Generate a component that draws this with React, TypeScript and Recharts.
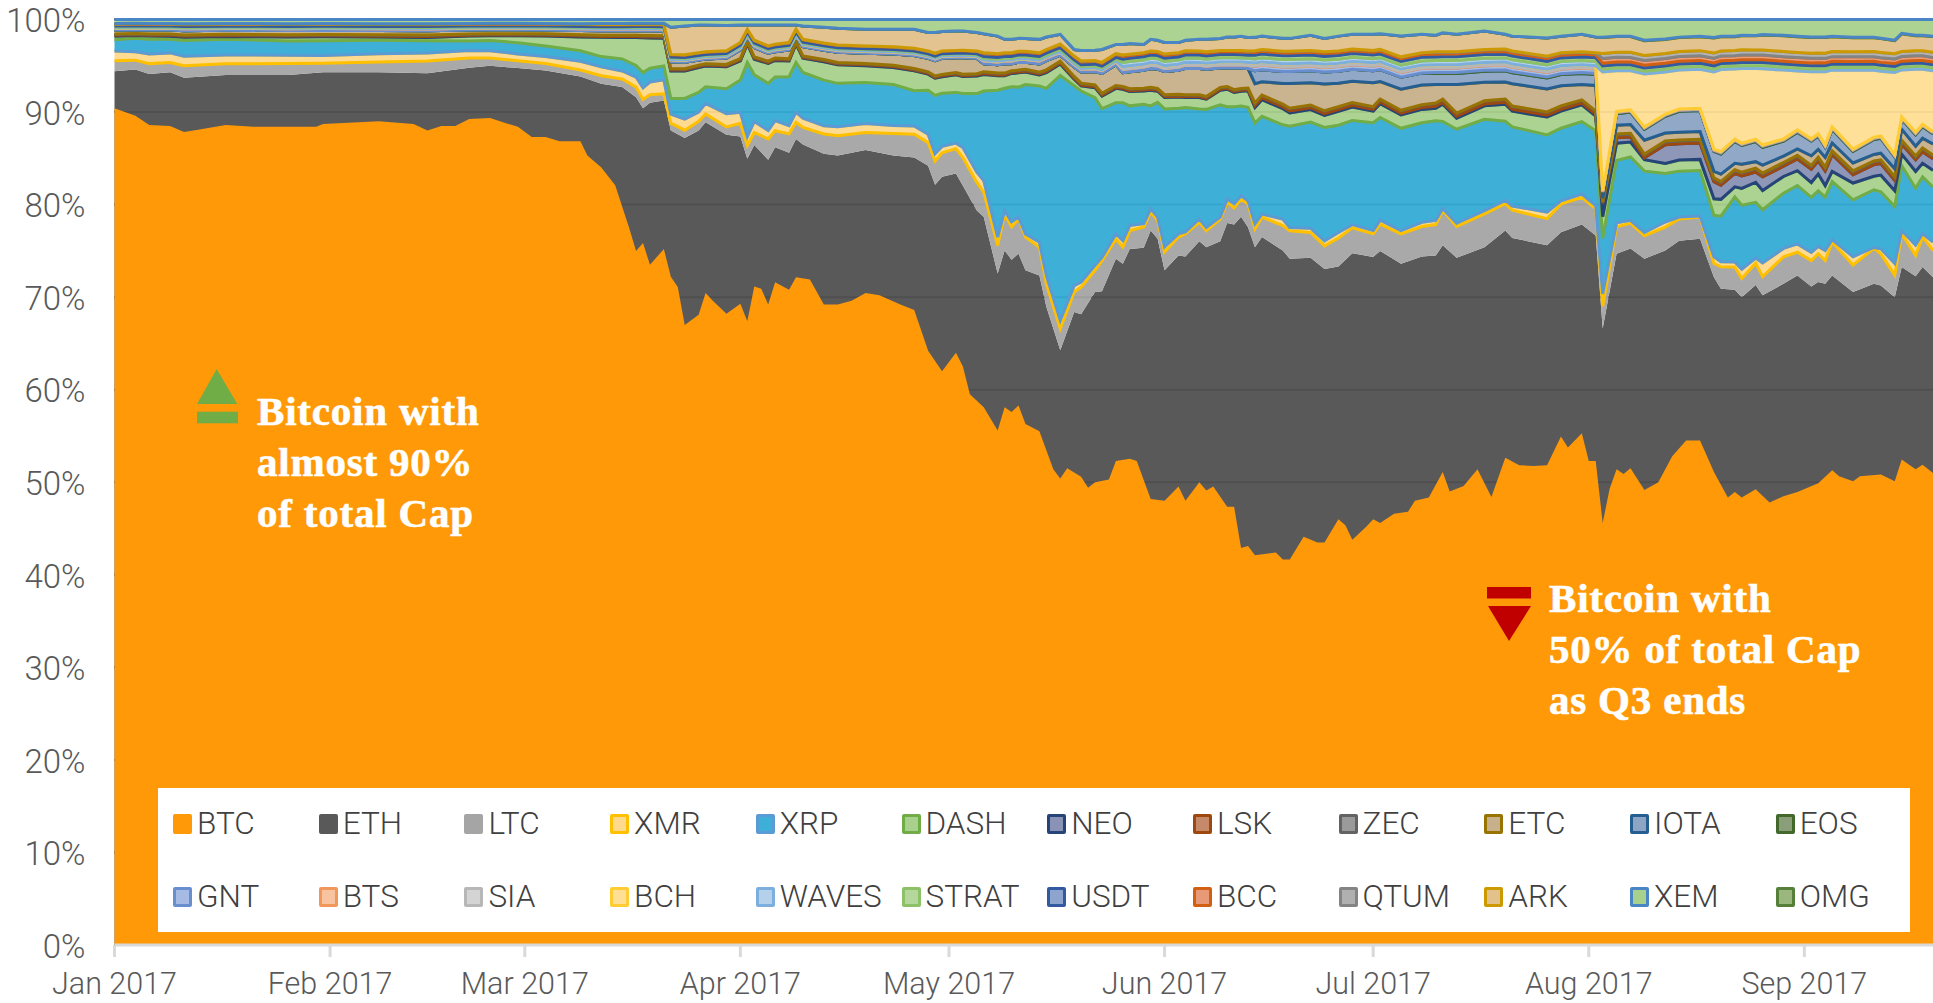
import React from 'react';
import { AreaChart, Area, XAxis, YAxis, CartesianGrid, Legend } from 'recharts';

// BTC share, read at its own finer set of days (days since 1 Jan 2017)
const btcDays = [
  0, 3, 5, 8, 10, 12, 16, 20, 29, 30, 38, 43, 45, 47, 49, 51, 54, 58, 60, 62, 64, 67, 68, 70, 72, 74, 75, 76, 77, 79,
  80, 81, 82, 84, 85, 86, 88, 90, 91, 92, 93, 94, 95, 97, 98, 100, 102, 104, 106, 108, 110, 113, 115, 117, 119, 121, 122, 123, 125, 127,
  128, 129, 130, 131, 133, 135, 136, 137, 139, 140, 141, 143, 144, 146, 147, 149, 151, 153, 154, 156, 157, 158, 160, 161, 162, 163, 164, 167, 168, 169,
  171, 173, 174, 176, 177, 178, 180, 181, 182, 184, 186, 187, 189, 191, 192, 194, 196, 198, 200, 202, 204, 206, 208, 209, 211, 212, 213, 214, 215, 216,
  217, 218, 220, 222, 224, 226, 228, 230, 232, 233, 234, 236, 238, 240, 242, 245, 247, 248, 250, 251, 254, 256, 257, 259, 260, 261.5,
];
const btc = [
  90.4, 89.6, 88.6, 88.5, 87.85, 88.1, 88.6, 88.4, 88.4, 88.7, 89, 88.7, 88, 88.5, 88.5, 89.25, 89.35, 88.4, 87.3, 87.3, 86.85, 86.85, 85.3, 84, 82.1, 77.5, 75, 75.85, 73.5, 75.2,
  72.2, 71.1, 67, 68.1, 70.45, 69.65, 68.2, 69.3, 67.4, 71.15, 70.9, 69.2, 71.6, 70.8, 72.15, 71.9, 69.2, 69.2, 69.6, 70.45, 70.2, 69.2, 68.6, 64.2, 62, 64, 62.5, 59.5, 58.1, 55.6,
  58.1, 57.6, 58.3, 56.3, 55.5, 51.4, 50.4, 51.5, 50.6, 49.4, 50, 50.3, 52.3, 52.55, 52.3, 48.2, 48, 49.55, 48, 50, 49.1, 49.55, 47.35, 47.35, 42.9, 43.1, 42.1, 42.4, 41.65, 41.65,
  44.1, 43.5, 43.5, 46, 45.35, 43.8, 45.2, 46, 45.6, 46.6, 46.8, 48, 48.35, 51.1, 49, 49.6, 51.4, 48.4, 52.65, 51.85, 51.75, 51.85, 54.95, 53.75, 55.3, 52.3, 52.3, 45.6, 49.3, 51.4,
  50.9, 51.5, 49.15, 50, 52.8, 54.5, 54.5, 51.1, 48.35, 48.95, 48.35, 49.25, 47.8, 48.5, 48.95, 49.9, 51.3, 50.65, 50.1, 50.65, 50.85, 50.1, 52.45, 51.4, 51.9, 51,
];

// everything else shares these days
const days = [
  0, 3, 5, 8, 10, 16, 25, 30, 38, 45, 51, 54, 58, 62, 67, 70, 73, 75, 76, 77, 79,
  80, 82, 84, 85, 88, 90, 91, 92, 94, 95, 97, 98, 99, 102, 104, 108, 112, 115, 117, 118, 119, 121, 122, 124,
  125, 127, 128, 129, 130, 131, 133, 134, 136, 138, 139, 141, 142, 144,
  145, 146, 148, 149, 150, 151, 153, 154, 156, 157, 159, 160, 161, 162, 163,
  164, 165, 168, 169, 172, 174, 176, 178, 181, 182, 185, 188,
  190, 191, 193, 197, 200, 201, 206, 208, 211, 213,
  214, 216, 218, 220, 223, 225, 228, 230, 231, 233, 234, 236, 237, 240, 242, 244, 245, 246, 247, 250, 253, 254, 256, 257, 259, 260, 261.5,
];
// upper edge of ETH (BTC + ETH together)
const ethTop = [
  94.4, 94.6, 94.1, 94.3, 93.7, 94, 94, 94.3, 94.3, 94.2, 94.8, 95, 94.75, 94.5, 93.85, 93.05, 92.7, 91.6, 90.4, 91, 91.25,
  88, 87.2, 88, 88.9, 87.55, 87.35, 84.95, 86.45, 84.85, 86.2, 85.6, 87.1, 86.5, 85.5, 85.3, 85.9, 85.3, 85.1, 84.2, 82.15, 83, 83.35, 82.05, 79.35,
  78.65, 72.55, 75.05, 74.05, 74.7, 72.9, 72.35, 68.95, 64.25, 68.4, 68.15, 70.55, 70.65, 74.15,
  73.6, 75.2, 75.35, 77.2, 76.3, 72.9, 74.5, 74.4, 76.05, 75.4, 76.05, 78, 77.85, 78.7, 77.55,
  75.4, 76.5, 75.05, 74.15, 74.25, 73.05, 73.3, 74.75, 74.35, 75, 73.6, 74.4,
  74.5, 75.6, 74.25, 75.4, 77.2, 76.4, 75.6, 77, 77.85, 76.65,
  66.6, 74.7, 75.25, 74.15, 75.05, 76.1, 76.3, 72.15, 70.9, 70.8, 70, 71.3, 70.2, 71.45, 72.35, 71.15, 71.65, 71.45, 72.35, 70.55, 71.45, 71.25, 70, 73.25, 72.25, 73.25, 72.15,
];
const ltc = [
  1.2, 1.1, 1.2, 1.1, 1.3, 1.25, 1.25, 1, 1.1, 1.3, 1.1, 0.9, 0.85, 0.8, 0.7, 0.9, 0.9, 1.1, 0.95, 0.85, 0.7,
  0.8, 0.85, 1, 0.9, 0.85, 1.45, 1.45, 1.35, 2.25, 1.8, 2.05, 1.8, 1.85, 2.15, 2.15, 1.9, 2.4, 2.5, 2.5, 2.55, 2.6, 2.7, 3.05, 3.05,
  2.7, 3.05, 3.95, 3.55, 3.8, 3.6, 3.05, 2.5, 2.35, 2.15, 2.95, 2.35, 3.3, 2.15,
  1.8, 2, 2.25, 2, 2, 2, 2, 2.45, 2.05, 1.8, 2.4, 2.25, 1.8, 1.9, 2.5,
  2, 2.15, 2.7, 3.05, 2.75, 2.5, 3.1, 2.75, 2.5, 2.9, 3.25, 3.25,
  3.35, 3.8, 3.4, 3.6, 2.9, 3, 2.9, 3.05, 2.95, 2.9,
  2.4, 2.9, 2.75, 2.5, 2.5, 2.35, 2.35, 1.45, 2.35, 2.45, 2, 2.35, 2, 2.9, 2.5, 2.8, 3.05, 2.5, 3.6, 2.9, 3.8, 3.4, 2.35, 3.6, 2.25, 3.25, 2.9,
];
const xmr = [
  1.1, 1, 1.1, 1.1, 1, 1, 0.9, 0.85, 0.9, 0.85, 0.85, 0.85, 0.8, 0.8, 0.95, 1, 0.9, 1.1, 1.25, 1.35, 1.45,
  1, 1.2, 1, 1.15, 1.45, 1.2, 0.95, 1.2, 0.9, 1.1, 0.9, 1.1, 1, 0.9, 0.95, 0.95, 0.85, 0.9, 0.9, 0.8, 0.7, 0.6, 1.1, 1.1,
  1.25, 0.9, 0.35, 0.55, 0.2, 0.35, 0.55, 0.9, 0.9, 0.7, 0.55, 0.55, 0.35, 0.55,
  0.7, 0.55, 0.35, 0.35, 0.35, 0.55, 0.35, 0.2, 0.35, 0.35, 0.2, 0.35, 0.45, 0.35, 0.35,
  0.55, 0.35, 0.7, 0.35, 0.45, 0.55, 0.6, 0.35, 0.35, 0.45, 0.35, 0.45,
  0.45, 0.2, 0.35, 0.35, 0.35, 0.45, 0.7, 0.35, 0.35, 0.35,
  1.35, 0.45, 0.3, 0.35, 0.55, 0.2, 0.1, 0.7, 0.55, 0.55, 1, 0.55, 1.45, 0.9, 0.9, 0.9, 0.8, 1.1, 0.25, 0.9, 0.1, 0.55, 1.25, 0.35, 1.1, 0.35, 0.9,
];
const xrp = [
  1.3, 1.6, 1.7, 1.55, 1.7, 1.75, 1.55, 1.6, 1.45, 1.3, 1.1, 1.2, 1.3, 1.2, 1.15, 1.15, 1.35, 1.25, 1.6, 1.45, 1.45,
  1.7, 2.25, 2.15, 1.8, 2.7, 3.5, 8.05, 5.05, 5.1, 4.75, 5.3, 5.4, 4.95, 4.95, 4.7, 4.45, 4.45, 3.8, 4.75, 6.3, 5.75, 5.5, 5.85, 8.5,
  9.7, 15.9, 13.25, 14.65, 14.1, 16.2, 16.9, 20.25, 26.45, 21.6, 20.7, 18.2, 16.15, 14.2,
  14.95, 12.95, 12.95, 11.15, 12.4, 14.95, 13.6, 13.5, 11.9, 12.8, 12.15, 10, 10.5, 9.7, 10.1,
  11, 10.6, 10.25, 11, 11.5, 12.3, 11.6, 11.3, 11.7, 11.15, 11.1, 10.8,
  10.8, 9.45, 10.2, 9.9, 8.55, 8.55, 8.4, 7.85, 7.85, 8.1,
  5.95, 6.75, 6.85, 6.65, 5.2, 4.95, 4.9, 4.4, 4.85, 7, 6.85, 5.95, 5.7, 5.95, 6.3, 5.95, 6.05, 5.75, 6.25, 6.1, 6.2, 6.1, 6.05, 7, 6.1, 6.1, 5.95,
];
const dash = [
  0.4, 0.3, 0.35, 0.35, 0.35, 0.3, 0.45, 0.45, 0.35, 0.35, 0.55, 0.55, 0.8, 1.15, 1.5, 2.15, 2.4, 3.05, 3.7, 3.2, 2.9,
  3, 3, 2.7, 2.25, 2.4, 2.1, 2, 1.7, 2.15, 1.8, 1.7, 2, 1.55, 2, 2, 1.8, 1.85, 2.15, 1.75, 1.85, 1.8, 1.9, 1.85, 1.9,
  1.8, 1.55, 1.35, 1.45, 1.55, 1.35, 1.2, 1.7, 1.25, 0.7, 0.55, 1.1, 1.35, 1.55,
  1.45, 1.55, 1.45, 1.7, 1.2, 1.25, 1.2, 1.1, 1.25, 1.1, 1.6, 1.9, 1.55, 1.6, 1.8,
  1.7, 1.8, 1.75, 1.45, 1.35, 1.3, 1.5, 1.45, 1.25, 1.5, 1.45, 1.45,
  1.35, 1.85, 1.2, 1.45, 1.85, 1.7, 1.95, 1.85, 1.8, 1.6,
  2.35, 1.85, 1.6, 1.25, 1.1, 1.2, 1.2, 1.75, 1.8, 1.1, 1.8, 2.15, 2.05, 1.8, 1.6, 1.6, 1.8, 1.25, 1.1, 1.8, 1.45, 1.8, 1.7, 1.25, 1.8, 1.45, 1.8,
];
const neo = [
  0.1, 0.1, 0.1, 0.1, 0.1, 0.1, 0.1, 0.1, 0.1, 0.1, 0.1, 0.1, 0.1, 0.1, 0.1, 0.1, 0.1, 0.1, 0.1, 0.1, 0.1,
  0.1, 0.1, 0.1, 0.1, 0.1, 0.1, 0.1, 0.1, 0.1, 0.1, 0.1, 0.1, 0.1, 0.1, 0.1, 0.1, 0.1, 0.1, 0.1, 0.1, 0.1, 0.1, 0.1, 0.1,
  0.1, 0.1, 0.1, 0.1, 0.1, 0.1, 0.1, 0.1, 0.1, 0.1, 0.1, 0.1, 0.1, 0.1,
  0.1, 0.1, 0.1, 0.1, 0.1, 0.1, 0.1, 0.1, 0.1, 0.1, 0.1, 0.1, 0.1, 0.1, 0.1,
  0.2, 0.2, 0.2, 0.2, 0.2, 0.2, 0.2, 0.2, 0.2, 0.2, 0.2, 0.2,
  0.2, 0.2, 0.2, 0.2, 0.2, 0.2, 0.2, 0.2, 0.2, 0.2,
  1.45, 0.6, 0.55, 0.2, 2, 1.75, 1.75, 1.8, 1.5, 1.45, 1.35, 1.1, 1.45, 1.1, 1.25, 1.45, 1.45, 1.6, 1.8, 0.9, 1.25, 1.25, 1.1, 1.1, 1.25, 1.25, 1.25,
];
const lsk = [
  0.1, 0.1, 0.1, 0.1, 0.1, 0.1, 0.1, 0.1, 0.1, 0.1, 0.1, 0.1, 0.1, 0.1, 0.1, 0.1, 0.1, 0.1, 0.1, 0.1, 0.1,
  0.1, 0.1, 0.1, 0.1, 0.1, 0.1, 0.1, 0.1, 0.1, 0.1, 0.1, 0.1, 0.1, 0.1, 0.1, 0.1, 0.1, 0.1, 0.1, 0.1, 0.1, 0.1, 0.1, 0.1,
  0.15, 0.15, 0.15, 0.15, 0.15, 0.15, 0.15, 0.15, 0.15, 0.15, 0.15, 0.15, 0.15, 0.15,
  0.15, 0.15, 0.15, 0.15, 0.15, 0.15, 0.15, 0.15, 0.15, 0.15, 0.15, 0.15, 0.15, 0.15, 0.15,
  0.25, 0.25, 0.25, 0.25, 0.25, 0.25, 0.25, 0.25, 0.25, 0.25, 0.25, 0.25,
  0.3, 0.3, 0.3, 0.3, 0.3, 0.3, 0.3, 0.3, 0.3, 0.3,
  0.1, 0.3, 0.3, 0.3, 0.3, 0.3, 0.3, 0.3, 0.3, 0.3, 0.3, 0.3, 0.3, 0.3, 0.3, 0.3, 0.3, 0.3, 0.3, 0.3, 0.3, 0.3, 0.3, 0.3, 0.3, 0.3, 0.3,
];
const zec = [
  0.05, 0.05, 0.05, 0.05, 0.05, 0.05, 0.05, 0.05, 0.05, 0.05, 0.05, 0.05, 0.05, 0.05, 0.05, 0.05, 0.05, 0.05, 0.05, 0.05, 0.05,
  0.05, 0.05, 0.05, 0.05, 0.05, 0.05, 0.05, 0.05, 0.05, 0.05, 0.05, 0.05, 0.05, 0.05, 0.05, 0.05, 0.05, 0.05, 0.05, 0.05, 0.05, 0.05, 0.05, 0.05,
  0.05, 0.05, 0.05, 0.05, 0.05, 0.05, 0.05, 0.05, 0.05, 0.05, 0.05, 0.05, 0.05, 0.05,
  0.05, 0.05, 0.05, 0.05, 0.05, 0.05, 0.05, 0.05, 0.05, 0.05, 0.05, 0.05, 0.05, 0.05, 0.05,
  0.05, 0.05, 0.05, 0.05, 0.05, 0.05, 0.05, 0.05, 0.05, 0.05, 0.05, 0.05,
  0.05, 0.05, 0.05, 0.05, 0.05, 0.05, 0.05, 0.05, 0.05, 0.05,
  0.05, 0.1, 0.1, 0.1, 0.1, 0.1, 0.1, 0.1, 0.1, 0.1, 0.1, 0.1, 0.1, 0.1, 0.1, 0.1, 0.1, 0.1, 0.1, 0.1, 0.1, 0.1, 0.1, 0.1, 0.1, 0.1, 0.1,
];
const etc = [
  0.45, 0.45, 0.45, 0.45, 0.45, 0.45, 0.45, 0.45, 0.45, 0.45, 0.45, 0.45, 0.45, 0.45, 0.45, 0.5, 0.5, 0.5, 0.5, 0.5, 0.5,
  0.75, 0.7, 0.55, 0.5, 0.7, 0.95, 0.55, 1, 0.85, 0.7, 0.95, 0.55, 1, 1, 1.1, 1.1, 1.2, 1.4, 1.45, 1.65, 1.75, 1.6, 1.8, 1.65,
  0.85, 0.9, 1, 0.75, 0.85, 0.75, 0.9, 1, 0.65, 1, 1.2, 1.45, 2.15, 2.25,
  1.5, 1.85, 1.95, 2.05, 2.1, 2.5, 2.6, 2.85, 2.85, 2.95, 2.1, 2, 2.35, 2.2, 2.1,
  2.1, 1.45, 2.25, 2.7, 2.4, 2.9, 2.55, 2.3, 2.6, 1.9, 2.3, 2.15,
  2, 1.6, 3.1, 2, 1.85, 2.4, 2.5, 2.2, 1.65, 2.75,
  0.4, 0.95, 0.95, 1.5, 0.85, 0.85, 0.85, 0.7, 0.8, 0.7, 0.85, 0.7, 0.85, 0.7, 0.7, 1.05, 0.85, 1.05, 0.85, 0.85, 0.7, 0.7, 0.85, 1.2, 1.05, 1.05, 1.2,
];
const iota = [
  0, 0, 0, 0, 0, 0, 0, 0, 0, 0, 0, 0, 0, 0, 0, 0, 0, 0, 0, 0, 0,
  0, 0, 0, 0, 0, 0, 0, 0, 0, 0, 0, 0, 0, 0, 0, 0, 0, 0, 0, 0, 0, 0, 0, 0,
  0, 0, 0, 0, 0, 0, 0, 0, 0, 0, 0, 0, 0, 0,
  0, 0, 0, 0, 0, 0, 0, 0, 0, 0, 0, 0, 0, 0, 0,
  1.4, 1.3, 1.3, 1.3, 1.3, 1.3, 1.3, 1.3, 1.3, 1.3, 1.3, 1.3,
  1.2, 1.2, 1.2, 1.2, 1.2, 1.2, 1.2, 1.2, 1.2, 1.2,
  0.55, 1.25, 1.35, 1.2, 1.8, 2.25, 2.25, 2.1, 2.15, 2.35, 2, 2.15, 1.9, 1.6, 1.8, 1.6, 1.45, 1.1, 1.5, 1.25, 1.6, 1.6, 1.25, 1.1, 1.25, 1.25, 1.1,
];
const eos = [
  0, 0, 0, 0, 0, 0, 0, 0, 0, 0, 0, 0, 0, 0, 0, 0, 0, 0, 0, 0, 0,
  0, 0, 0, 0, 0, 0, 0, 0, 0, 0, 0, 0, 0, 0, 0, 0, 0, 0, 0, 0, 0, 0, 0, 0,
  0, 0, 0, 0, 0, 0, 0, 0, 0, 0, 0, 0, 0, 0,
  0, 0, 0, 0, 0, 0, 0, 0, 0, 0, 0, 0, 0, 0, 0,
  0, 0, 0, 0, 0, 0, 0, 0, 0, 0, 0, 0,
  0.1, 0.1, 0.1, 0.1, 0.1, 0.1, 0.1, 0.1, 0.1, 0.1,
  0.1, 0.1, 0.1, 0.1, 0.1, 0.1, 0.1, 0.1, 0.1, 0.1, 0.1, 0.1, 0.1, 0.1, 0.1, 0.1, 0.1, 0.1, 0.1, 0.1, 0.1, 0.1, 0.1, 0.1, 0.1, 0.1, 0.1,
];
const gnt = [
  0.2, 0.2, 0.2, 0.2, 0.2, 0.2, 0.2, 0.2, 0.2, 0.2, 0.2, 0.2, 0.2, 0.2, 0.2, 0.2, 0.2, 0.2, 0.2, 0.2, 0.2,
  0.2, 0.2, 0.2, 0.2, 0.2, 0.2, 0.2, 0.2, 0.2, 0.2, 0.2, 0.2, 0.2, 0.2, 0.2, 0.2, 0.2, 0.2, 0.2, 0.2, 0.2, 0.2, 0.2, 0.2,
  0.3, 0.3, 0.3, 0.3, 0.3, 0.3, 0.3, 0.3, 0.3, 0.3, 0.3, 0.3, 0.3, 0.3,
  0.35, 0.35, 0.35, 0.35, 0.35, 0.35, 0.35, 0.35, 0.35, 0.35, 0.35, 0.35, 0.35, 0.35, 0.35,
  0.5, 0.5, 0.5, 0.5, 0.5, 0.5, 0.5, 0.5, 0.5, 0.5, 0.5, 0.5,
  0.5, 0.5, 0.5, 0.5, 0.5, 0.5, 0.5, 0.5, 0.5, 0.5,
  0.05, 0.05, 0.05, 0.05, 0.05, 0.05, 0.05, 0.05, 0.05, 0.05, 0.05, 0.05, 0.05, 0.05, 0.05, 0.05, 0.05, 0.05, 0.05, 0.05, 0.05, 0.05, 0.05, 0.05, 0.05, 0.05, 0.05,
];
const bts = [
  0, 0, 0, 0, 0, 0, 0, 0, 0, 0, 0, 0, 0, 0, 0, 0, 0, 0, 0, 0, 0,
  0, 0, 0, 0, 0, 0, 0, 0, 0, 0, 0, 0, 0, 0, 0, 0, 0, 0, 0, 0, 0, 0, 0, 0,
  0, 0, 0, 0, 0, 0, 0, 0, 0, 0, 0, 0, 0, 0,
  0, 0, 0, 0, 0, 0, 0, 0, 0, 0, 0, 0, 0, 0, 0,
  0.05, 0.05, 0.05, 0.05, 0.05, 0.05, 0.05, 0.05, 0.05, 0.05, 0.05, 0.05,
  0.05, 0.05, 0.05, 0.05, 0.05, 0.05, 0.05, 0.05, 0.05, 0.05,
  0.05, 0.05, 0.05, 0.05, 0.05, 0.05, 0.05, 0.05, 0.05, 0.05, 0.05, 0.05, 0.05, 0.05, 0.05, 0.05, 0.05, 0.05, 0.05, 0.05, 0.05, 0.05, 0.05, 0.05, 0.05, 0.05, 0.05,
];
const sia = [
  0.05, 0.05, 0.05, 0.05, 0.05, 0.05, 0.05, 0.05, 0.05, 0.05, 0.05, 0.05, 0.05, 0.05, 0.05, 0.05, 0.05, 0.05, 0.05, 0.05, 0.05,
  0.05, 0.05, 0.05, 0.05, 0.05, 0.05, 0.05, 0.05, 0.05, 0.05, 0.05, 0.05, 0.05, 0.05, 0.05, 0.05, 0.05, 0.05, 0.05, 0.05, 0.05, 0.05, 0.05, 0.05,
  0.1, 0.1, 0.1, 0.1, 0.1, 0.1, 0.1, 0.1, 0.1, 0.1, 0.1, 0.1, 0.1, 0.1,
  0.3, 0.3, 0.3, 0.3, 0.3, 0.3, 0.3, 0.3, 0.3, 0.3, 0.3, 0.3, 0.3, 0.3, 0.3,
  0.3, 0.3, 0.3, 0.3, 0.3, 0.3, 0.3, 0.3, 0.3, 0.3, 0.3, 0.3,
  0.3, 0.3, 0.3, 0.3, 0.3, 0.3, 0.3, 0.3, 0.3, 0.3,
  0.05, 0.05, 0.05, 0.05, 0.05, 0.05, 0.05, 0.05, 0.05, 0.05, 0.05, 0.05, 0.05, 0.05, 0.05, 0.05, 0.05, 0.05, 0.05, 0.05, 0.05, 0.05, 0.05, 0.05, 0.05, 0.05, 0.05,
];
const bch = [
  0, 0, 0, 0, 0, 0, 0, 0, 0, 0, 0, 0, 0, 0, 0, 0, 0, 0, 0, 0, 0,
  0, 0, 0, 0, 0, 0, 0, 0, 0, 0, 0, 0, 0, 0, 0, 0, 0, 0, 0, 0, 0, 0, 0, 0,
  0, 0, 0, 0, 0, 0, 0, 0, 0, 0, 0, 0, 0, 0,
  0, 0, 0, 0, 0, 0, 0, 0, 0, 0, 0, 0, 0, 0, 0,
  0, 0, 0, 0, 0, 0, 0, 0, 0, 0, 0, 0,
  0, 0, 0, 0, 0, 0, 0, 0, 0, 0,
  12.8, 4.4, 4.2, 5.75, 4.5, 4.2, 4.2, 8.15, 8.75, 7.55, 8, 7.55, 8.15, 7.4, 6.35, 7.25, 6.75, 7.9, 6.1, 8.45, 7.2, 6.95, 8.75, 5.05, 6.75, 5.9, 6.55,
];
const waves = [
  0.1, 0.1, 0.1, 0.1, 0.1, 0.1, 0.1, 0.1, 0.1, 0.1, 0.1, 0.1, 0.1, 0.1, 0.1, 0.1, 0.1, 0.1, 0.1, 0.1, 0.1,
  0.15, 0.15, 0.15, 0.15, 0.15, 0.15, 0.15, 0.15, 0.15, 0.15, 0.15, 0.15, 0.15, 0.15, 0.15, 0.15, 0.15, 0.15, 0.15, 0.15, 0.15, 0.15, 0.15, 0.15,
  0.2, 0.2, 0.2, 0.2, 0.2, 0.2, 0.2, 0.2, 0.2, 0.2, 0.2, 0.2, 0.2, 0.2,
  0.45, 0.45, 0.45, 0.45, 0.45, 0.45, 0.45, 0.45, 0.45, 0.45, 0.45, 0.45, 0.45, 0.45, 0.45,
  0.45, 0.45, 0.45, 0.45, 0.45, 0.45, 0.45, 0.45, 0.45, 0.45, 0.45, 0.45,
  0.45, 0.45, 0.45, 0.45, 0.45, 0.45, 0.45, 0.45, 0.45, 0.45,
  0.3, 0.3, 0.3, 0.3, 0.3, 0.3, 0.3, 0.3, 0.3, 0.3, 0.3, 0.3, 0.3, 0.3, 0.3, 0.3, 0.3, 0.3, 0.3, 0.3, 0.3, 0.3, 0.3, 0.3, 0.3, 0.3, 0.3,
];
const strat = [
  0.1, 0.1, 0.1, 0.1, 0.1, 0.1, 0.1, 0.1, 0.1, 0.1, 0.1, 0.1, 0.1, 0.1, 0.1, 0.1, 0.1, 0.1, 0.1, 0.1, 0.1,
  0.1, 0.1, 0.1, 0.1, 0.1, 0.1, 0.1, 0.1, 0.1, 0.1, 0.1, 0.1, 0.1, 0.1, 0.1, 0.1, 0.1, 0.1, 0.1, 0.1, 0.1, 0.1, 0.1, 0.1,
  0.2, 0.2, 0.2, 0.2, 0.2, 0.2, 0.2, 0.2, 0.2, 0.2, 0.2, 0.2, 0.2, 0.2,
  0.35, 0.35, 0.35, 0.35, 0.35, 0.35, 0.35, 0.35, 0.35, 0.35, 0.35, 0.35, 0.35, 0.35, 0.35,
  0.4, 0.4, 0.4, 0.4, 0.4, 0.4, 0.4, 0.4, 0.4, 0.4, 0.4, 0.4,
  0.4, 0.4, 0.4, 0.4, 0.4, 0.4, 0.4, 0.4, 0.4, 0.4,
  0.35, 0.35, 0.35, 0.35, 0.35, 0.35, 0.35, 0.35, 0.35, 0.35, 0.35, 0.35, 0.35, 0.35, 0.35, 0.35, 0.35, 0.35, 0.35, 0.35, 0.35, 0.35, 0.35, 0.35, 0.35, 0.35, 0.35,
];
const usdt = [
  0.2, 0.2, 0.2, 0.2, 0.2, 0.2, 0.2, 0.2, 0.2, 0.2, 0.2, 0.2, 0.2, 0.2, 0.2, 0.2, 0.2, 0.2, 0.2, 0.2, 0.2,
  0.25, 0.25, 0.25, 0.25, 0.25, 0.25, 0.25, 0.25, 0.25, 0.25, 0.25, 0.25, 0.25, 0.25, 0.25, 0.25, 0.25, 0.25, 0.25, 0.25, 0.25, 0.25, 0.25, 0.25,
  0.3, 0.3, 0.3, 0.3, 0.3, 0.3, 0.3, 0.3, 0.3, 0.3, 0.3, 0.3, 0.3, 0.3,
  0.3, 0.3, 0.3, 0.3, 0.3, 0.3, 0.3, 0.3, 0.3, 0.3, 0.3, 0.3, 0.3, 0.3, 0.3,
  0.3, 0.3, 0.3, 0.3, 0.3, 0.3, 0.3, 0.3, 0.3, 0.3, 0.3, 0.3,
  0.3, 0.3, 0.3, 0.3, 0.3, 0.3, 0.3, 0.3, 0.3, 0.3,
  0.3, 0.3, 0.3, 0.3, 0.3, 0.3, 0.3, 0.3, 0.3, 0.3, 0.3, 0.3, 0.3, 0.3, 0.3, 0.3, 0.3, 0.3, 0.3, 0.3, 0.3, 0.3, 0.3, 0.3, 0.3, 0.3, 0.3,
];
const bcc = [
  0.05, 0.05, 0.05, 0.05, 0.05, 0.05, 0.05, 0.05, 0.05, 0.05, 0.05, 0.05, 0.05, 0.05, 0.05, 0.05, 0.05, 0.05, 0.05, 0.05, 0.05,
  0.05, 0.05, 0.05, 0.05, 0.05, 0.05, 0.05, 0.05, 0.05, 0.05, 0.05, 0.05, 0.05, 0.05, 0.05, 0.05, 0.05, 0.05, 0.05, 0.05, 0.05, 0.05, 0.05, 0.05,
  0.1, 0.1, 0.1, 0.1, 0.1, 0.1, 0.1, 0.1, 0.1, 0.1, 0.1, 0.1, 0.1, 0.1,
  0.15, 0.15, 0.15, 0.15, 0.15, 0.15, 0.15, 0.15, 0.15, 0.15, 0.15, 0.15, 0.15, 0.15, 0.15,
  0.2, 0.2, 0.2, 0.2, 0.2, 0.2, 0.2, 0.2, 0.2, 0.2, 0.2, 0.2,
  0.2, 0.2, 0.2, 0.2, 0.2, 0.2, 0.2, 0.2, 0.2, 0.2,
  0.5, 0.5, 0.5, 0.5, 0.5, 0.5, 0.5, 0.5, 0.5, 0.5, 0.5, 0.5, 0.5, 0.5, 0.5, 0.5, 0.5, 0.5, 0.5, 0.5, 0.5, 0.5, 0.5, 0.5, 0.5, 0.5, 0.5,
];
const qtum = [
  0, 0, 0, 0, 0, 0, 0, 0, 0, 0, 0, 0, 0, 0, 0, 0, 0, 0, 0, 0, 0,
  0, 0, 0, 0, 0, 0, 0, 0, 0, 0, 0, 0, 0, 0, 0, 0, 0, 0, 0, 0, 0, 0, 0, 0,
  0, 0, 0, 0, 0, 0, 0, 0, 0, 0, 0, 0, 0, 0,
  0, 0, 0, 0, 0, 0, 0, 0, 0, 0, 0, 0, 0, 0, 0,
  0, 0, 0, 0, 0, 0, 0, 0, 0, 0, 0, 0,
  0.05, 0.05, 0.05, 0.05, 0.05, 0.05, 0.05, 0.05, 0.05, 0.05,
  0.55, 0.55, 0.55, 0.55, 0.55, 0.55, 0.55, 0.55, 0.55, 0.55, 0.55, 0.55, 0.55, 0.55, 0.55, 0.55, 0.55, 0.55, 0.55, 0.55, 0.55, 0.55, 0.55, 0.55, 0.55, 0.55, 0.55,
];
const ark = [
  0.05, 0.05, 0.05, 0.05, 0.05, 0.05, 0.05, 0.05, 0.05, 0.05, 0.05, 0.05, 0.05, 0.05, 0.05, 0.1, 0.1, 0.1, 0.1, 0.1, 0.1,
  2.95, 3.15, 3, 2.9, 2.75, 1.9, 0.45, 1.65, 2.25, 2.1, 1.9, 0.45, 1.45, 1.7, 1.8, 1.8, 1.9, 2.05, 2, 2.25, 2.1, 2.1, 2.1, 2,
  2.05, 1.9, 1.45, 1.45, 1.4, 1.4, 1.45, 1.35, 1.05, 0.7, 1.15, 1.1, 1.4, 1,
  1.15, 1.15, 0.9, 1.25, 1.2, 1.25, 1.1, 1.15, 1.25, 1.35, 1.3, 1.45, 1.45, 1.55, 1.45,
  1.45, 1.45, 1.4, 1.4, 1.65, 1.45, 1.6, 1.6, 1.75, 1.7, 2.25, 2,
  1.8, 2.05, 1.9, 2, 1.6, 1.6, 2, 1.8, 1.9, 1.7,
  1.7, 1.7, 1.7, 1.6, 1.5, 1.5, 1.5, 1.6, 1.5, 1.5, 1.5, 1.5, 1.6, 1.7, 1.7, 1.7, 1.7, 1.7, 1.6, 1.5, 1.5, 1.5, 1.4, 1.9, 1.6, 1.6, 1.7,
];
const omg = [
  0, 0, 0, 0, 0, 0, 0, 0, 0, 0, 0, 0, 0, 0, 0, 0, 0, 0, 0, 0, 0,
  0, 0, 0, 0, 0, 0, 0, 0, 0, 0, 0, 0, 0, 0, 0, 0, 0, 0, 0, 0, 0, 0, 0, 0,
  0, 0, 0, 0, 0, 0, 0, 0, 0, 0, 0, 0, 0, 0,
  0, 0, 0, 0, 0, 0, 0, 0, 0, 0, 0, 0, 0, 0, 0,
  0, 0, 0, 0, 0, 0, 0, 0, 0, 0, 0, 0,
  0, 0, 0, 0, 0, 0, 0, 0, 0, 0,
  0.05, 0.05, 0.05, 0.05, 0.05, 0.05, 0.05, 0.05, 0.05, 0.05, 0.05, 0.05, 0.05, 0.05, 0.05, 0.05, 0.05, 0.05, 0.05, 0.05, 0.05, 0.05, 0.05, 0.05, 0.05, 0.05, 0.05,
];
const xem = [
  0.45, 0.45, 0.45, 0.45, 0.45, 0.45, 0.45, 0.45, 0.45, 0.45, 0.45, 0.45, 0.45, 0.45, 0.45, 0.45, 0.45, 0.4, 0.4, 0.4, 0.4,
  0.85, 0.7, 0.6, 0.6, 0.65, 0.6, 0.6, 0.6, 0.6, 0.6, 0.6, 0.6, 0.7, 0.85, 0.95, 1.05, 1.05, 1.05, 1.4, 1.4, 1.3, 1.25, 1.25, 1.4,
  1.55, 1.8, 2.15, 2.15, 2.05, 2.05, 2.15, 1.9, 1.6, 3.25, 3.35, 3.35, 3.25, 2.7,
  2.7, 2.6, 2.7, 2.15, 2.25, 2.5, 2.5, 2.25, 2.15, 2.15, 2.05, 1.9, 1.9, 1.8, 1.95,
  1.95, 1.8, 2.05, 2.05, 1.7, 2.05, 1.8, 1.6, 1.6, 1.55, 1.8, 1.6,
  1.7, 1.45, 1.6, 1.25, 1.6, 1.8, 2, 1.8, 1.6, 1.9,
  1.9, 1.8, 1.8, 2.25, 2.1, 1.9, 1.8, 1.9, 1.8, 1.8, 1.7, 1.7, 1.6, 1.7, 1.8, 1.9, 1.9, 1.9, 1.8, 1.9, 1.9, 2, 2.2, 1.5, 1.7, 1.7, 1.8,
];

const monthTicks = [0, 31, 59, 90, 120, 151, 181, 212, 243];
const monthLabels = ['Jan 2017', 'Feb 2017', 'Mar 2017', 'Apr 2017', 'May 2017', 'Jun 2017', 'Jul 2017', 'Aug 2017', 'Sep 2017'];
const percentTicks = [0, 10, 20, 30, 40, 50, 60, 70, 80, 90, 100];

// stacked from the bottom up, above ETH
const stack = [
  { name: 'LTC', values: ltc, fill: '#a5a5a5', stroke: 'none' },
  { name: 'XMR', values: xmr, fill: '#ffd98c', stroke: '#ffc000' },
  { name: 'XRP', values: xrp, fill: '#36add6', stroke: '#5b9bd5' },
  { name: 'DASH', values: dash, fill: '#a9d18e', stroke: '#70ad47' },
  { name: 'NEO', values: neo, fill: '#8a93b5', stroke: '#264478' },
  { name: 'LSK', values: lsk, fill: '#c48a6a', stroke: '#9e480e' },
  { name: 'ZEC', values: zec, fill: '#9a9a9a', stroke: '#636363' },
  { name: 'ETC', values: etc, fill: '#c8b08a', stroke: '#997300' },
  { name: 'IOTA', values: iota, fill: '#8da4c4', stroke: '#255e91' },
  { name: 'EOS', values: eos, fill: '#8a9e7a', stroke: '#43682b' },
  { name: 'GNT', values: gnt, fill: '#a5bbe3', stroke: '#698ed0' },
  { name: 'BTS', values: bts, fill: '#f7c3a0', stroke: '#f1975a' },
  { name: 'SIA', values: sia, fill: '#d4d4d4', stroke: '#b7b7b7' },
  { name: 'BCH', values: bch, fill: '#ffdf94', stroke: '#ffcd33' },
  { name: 'WAVES', values: waves, fill: '#b5d0ea', stroke: '#7cafdd' },
  { name: 'STRAT', values: strat, fill: '#b4d79b', stroke: '#8cc168' },
  { name: 'USDT', values: usdt, fill: '#8da4cf', stroke: '#335aa1' },
  { name: 'BCC', values: bcc, fill: '#e89a78', stroke: '#d26012' },
  { name: 'QTUM', values: qtum, fill: '#b0b0b0', stroke: '#848484' },
  { name: 'ARK', values: ark, fill: '#e2c18a', stroke: '#cc9a00' },
  { name: 'OMG', values: omg, fill: '#9ab87e', stroke: '#56803a' },
  { name: 'XEM', values: xem, fill: '#a9d18e', stroke: '#4a85c5' },
];

const legendOrder = [
  ['BTC', '#ff9908', '#ff9908'], ['ETH', '#595959', '#595959'], ['LTC', '#a5a5a5', '#a5a5a5'], ['XMR', '#ffd98c', '#ffc000'],
  ['XRP', '#3eb0d8', '#5b9bd5'], ['DASH', '#a9d18e', '#70ad47'], ['NEO', '#8a93b5', '#264478'], ['LSK', '#c48a6a', '#9e480e'],
  ['ZEC', '#9a9a9a', '#636363'], ['ETC', '#c8b08a', '#997300'], ['IOTA', '#8da4c4', '#255e91'], ['EOS', '#8a9e7a', '#43682b'],
  ['GNT', '#a5bbe3', '#698ed0'], ['BTS', '#f7c3a0', '#f1975a'], ['SIA', '#d4d4d4', '#b7b7b7'], ['BCH', '#ffdf94', '#ffcd33'],
  ['WAVES', '#b5d0ea', '#7cafdd'], ['STRAT', '#b4d79b', '#8cc168'], ['USDT', '#8da4cf', '#335aa1'], ['BCC', '#e89a78', '#d26012'],
  ['QTUM', '#b0b0b0', '#848484'], ['ARK', '#e2c18a', '#cc9a00'], ['XEM', '#a9d18e', '#4a85c5'], ['OMG', '#9ab87e', '#56803a'],
];

// each band becomes a [lower, upper] range, scaled so the bands fill ETH top to 100
const rows = days.map((day, i) => {
  const row: any = { day, ETH: [0, ethTop[i]] };
  const sum = stack.reduce((acc, s) => acc + (s.values[i] ?? 0), 0);
  const scale = (100 - ethTop[i]) / sum;
  let y = ethTop[i];
  stack.forEach((s) => {
    const next = y + (s.values[i] ?? 0) * scale;
    row[s.name] = [y, next];
    y = next;
  });
  return row;
});
const btcRows = btcDays.map((day, i) => ({ day, BTC: btc[i] }));

const fontFamily = 'Roboto, "Liberation Sans", sans-serif';
const serif = '"Liberation Serif", serif';

function LegendBox() {
  return (
    <div style={{ width: 1752, height: 144, background: '#fff', position: 'relative', fontFamily, fontWeight: 300, color: '#404040' }}>
      {legendOrder.map(([name, fill, stroke], i) => (
        <div
          key={name}
          style={{ position: 'absolute', left: 15 + (i % 12) * 145.7, top: i < 12 ? 20 : 93, display: 'flex', alignItems: 'center', height: 32 }}
        >
          <span style={{ width: 19, height: 20, boxSizing: 'border-box', background: fill, border: `3px solid ${stroke}`, borderRadius: 2, marginRight: 5 }} />
          <span style={{ fontSize: 31.5, lineHeight: '32px' }}>{name}</span>
        </div>
      ))}
    </div>
  );
}

function Notes() {
  const text = { fontFamily: serif, fontWeight: 700, fontSize: 41, fill: '#fff', stroke: '#fff', strokeWidth: 0.6, letterSpacing: 0.8 };
  return (
    <svg width={1933} height={1003} style={{ position: 'absolute', left: 0, top: 0, pointerEvents: 'none' }}>
      <polygon points="197,404 216.7,369 237.3,404" fill="#70ad47" />
      <rect x={197} y={411.7} width={41} height={11.6} fill="#70ad47" />
      <text x={257} y={425} {...text}>Bitcoin with</text>
      <text x={257} y={476} {...text}>almost 90%</text>
      <text x={257} y={527} {...text}>of total Cap</text>
      <rect x={1487} y={587} width={44} height={11.5} fill="#c00000" />
      <polygon points="1488,606 1531,606 1509,641" fill="#c00000" />
      <text x={1549} y={612} {...text}>Bitcoin with</text>
      <text x={1549} y={663} {...text}>50% of total Cap</text>
      <text x={1549} y={714} {...text}>as Q3 ends</text>
    </svg>
  );
}

export default function App() {
  return (
    <div style={{ position: 'absolute', left: 0, top: 0, width: 1933, height: 1003, background: '#fff', overflow: 'hidden' }}>
      <AreaChart width={1933} height={1003} data={rows} margin={{ top: 19.5, right: 0, bottom: 0, left: 0 }}>
        <CartesianGrid vertical={false} stroke="#000" strokeWidth={2} />
        <XAxis
          dataKey="day"
          type="number"
          domain={[0, 261.5]}
          ticks={monthTicks}
          tickFormatter={(d) => monthLabels[monthTicks.indexOf(d)]}
          interval={0}
          height={58}
          tickSize={12}
          tickMargin={15}
          stroke="#d9d9d9"
          strokeWidth={3}
          tick={{ fontSize: 30.5, fill: '#595959', fontFamily, fontWeight: 300 }}
        />
        <YAxis
          type="number"
          domain={[0, 100]}
          ticks={percentTicks}
          tickFormatter={(v) => `${v}%`}
          interval={0}
          width={114.5}
          tickLine={false}
          axisLine={false}
          tickSize={0}
          tickMargin={29}
          tick={{ fontSize: 33, fill: '#595959', fontFamily, fontWeight: 300, dy: 1 }}
        />
        <Area dataKey="ETH" type="linear" fill="#525252" fillOpacity={0.96} stroke="none" isAnimationActive={false} dot={false} activeDot={false} />
        {stack.map((s) => (
          <Area
            key={s.name}
            dataKey={s.name}
            type="linear"
            fill={s.fill}
            fillOpacity={0.96}
            stroke={s.stroke}
            strokeWidth={3}
            isAnimationActive={false}
            dot={false}
            activeDot={false}
          />
        ))}
        <Area data={btcRows} dataKey="BTC" type="linear" fill="#ff9908" fillOpacity={1} stroke="none" isAnimationActive={false} dot={false} activeDot={false} />
        <Legend
          verticalAlign="middle"
          content={() => <LegendBox />}
          wrapperStyle={{ left: 158, top: 788, width: 1752, height: 144 }}
        />
      </AreaChart>
      <Notes />
    </div>
  );
}
